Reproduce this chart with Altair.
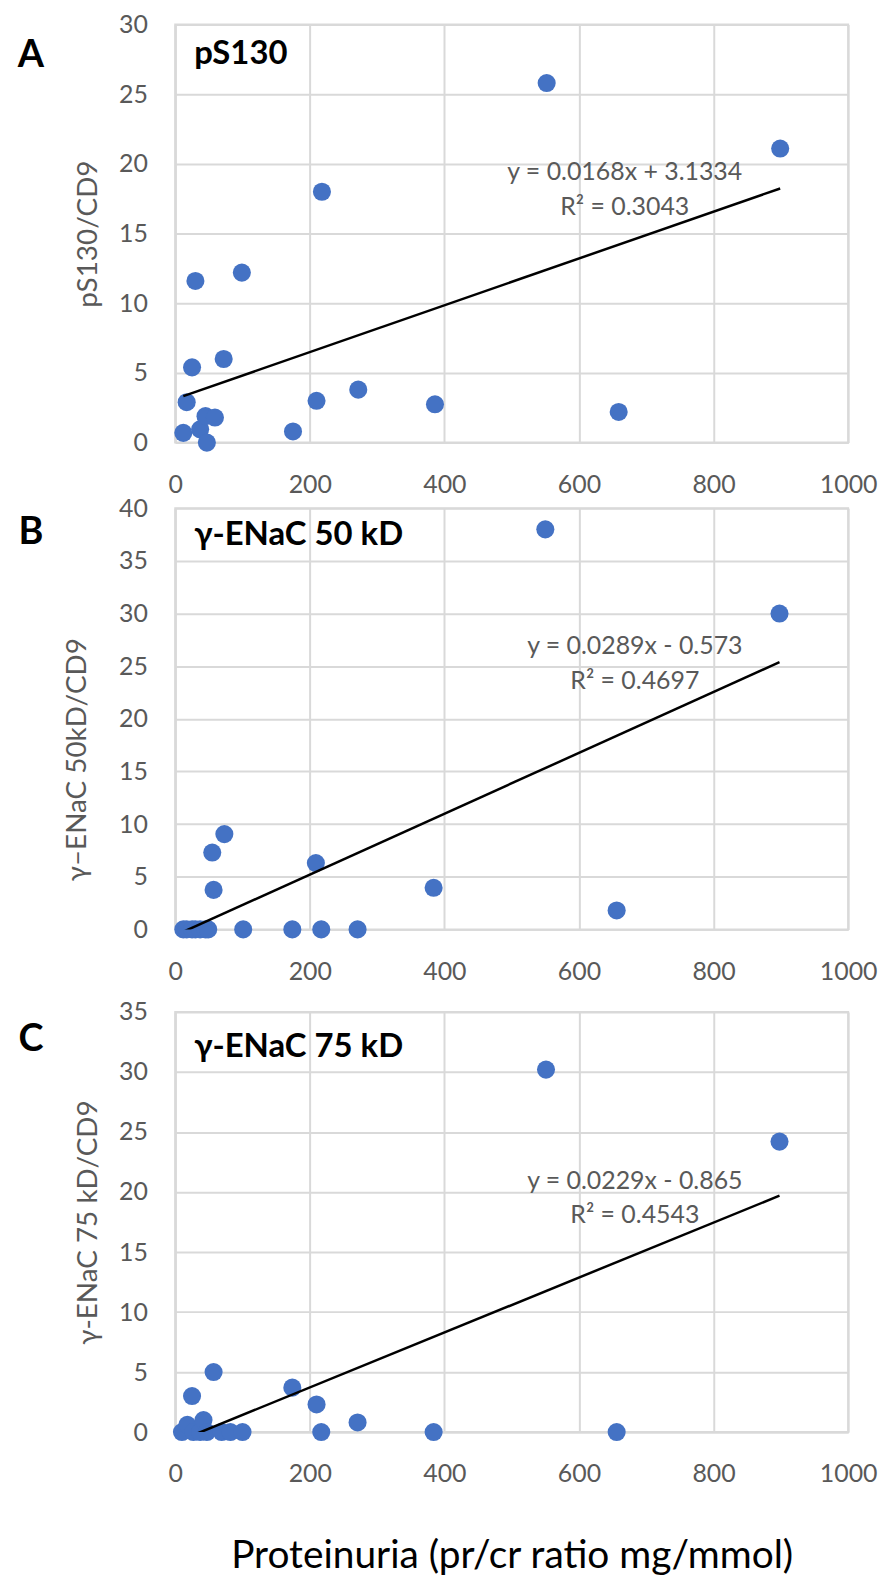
import altair as alt
import pandas as pd

# ---------------- data ----------------
# Panel A: pS130/CD9 vs proteinuria
x_A = [12, 17, 25, 30, 37, 45, 47, 59, 72, 99, 175, 210, 218, 272, 386, 552, 659, 899]
y_A = [0.7, 2.9, 5.4, 11.6, 0.95, 1.9, 0.0, 1.8, 6.0, 12.2, 0.8, 3.0, 18.0, 3.8, 2.75, 25.8, 2.2, 21.1]

# Panel B: gamma-ENaC 50 kD/CD9 vs proteinuria
x_B = [12, 17, 25, 30, 37, 45, 49, 55, 57, 73, 101, 174, 209, 217, 271, 384, 550, 656, 898]
y_B = [0, 0, 0, 0, 0, 0, 0, 7.3, 3.75, 9.05, 0, 0, 6.3, 0, 0, 3.95, 38.0, 1.8, 30.0]

# Panel C: gamma-ENaC 75 kD/CD9 vs proteinuria
x_C = [10, 18, 25, 27, 37, 42, 47, 57, 69, 82, 100, 174, 210, 217, 271, 384, 551, 656, 898]
y_C = [0, 0.6, 3.0, 0, 0, 1.0, 0, 5.0, 0, 0, 0, 3.7, 2.3, 0, 0.8, 0, 30.2, 0, 24.2]

# Printed linear trendlines
slopes = [0.0168, 0.0289, 0.0229]
intercepts = [3.1334, -0.573, -0.865]
eq_texts = ["y = 0.0168x + 3.1334", "y = 0.0289x - 0.573", "y = 0.0229x - 0.865"]
r2_texts = ["R² = 0.3043", "R² = 0.4697", "R² = 0.4543"]

y_titles = ["pS130/CD9", "γ–ENaC 50kD/CD9", "γ-ENaC 75 kD/CD9"]
panel_titles = ["pS130", "γ-ENaC 50 kD", "γ-ENaC 75 kD"]
letters = ["A", "B", "C"]
y_max = [30, 40, 35]
x_ticks = [0, 200, 400, 600, 800, 1000]
x_title = "Proteinuria (pr/cr ratio mg/mmol)"

FONT = "Lato"
BLUE = "#4472C4"
GRAY = "#595959"
W = 676


def panel(i, xs, ys, height, title_pad, eq_pos, letter_y, ptitle_y,
          title_y=None, show_x_title=False):
    df = pd.DataFrame({"x": xs, "y": ys})
    ymax = y_max[i]
    x_axis_kw = dict(values=x_ticks, labelPadding=30, grid=True, format="d")
    if show_x_title:
        x_axis_kw.update(title=x_title, titleFontSize=39, titleColor="#000000",
                         titlePadding=50, titleFont=FONT)
    else:
        x_axis_kw.update(title=None)
    y_axis_kw = dict(values=list(range(0, ymax + 1, 5)), labelPadding=28,
                     title=y_titles[i], titleFontSize=28, titlePadding=title_pad,
                     grid=True, format="d")
    if title_y is not None:
        y_axis_kw["titleY"] = title_y

    x_enc = alt.X("x:Q", scale=alt.Scale(domain=[0, 1000], nice=False),
                  axis=alt.Axis(**x_axis_kw))
    y_enc = alt.Y("y:Q", scale=alt.Scale(domain=[0, ymax], nice=False),
                  axis=alt.Axis(**y_axis_kw))

    pts = alt.Chart(df).mark_circle(size=330, color=BLUE, opacity=1).encode(
        x=x_enc, y=y_enc)

    line_df = pd.DataFrame({"x": [min(xs), max(xs)]})
    trend = (alt.Chart(line_df)
             .transform_calculate(y=f"{slopes[i]}*datum.x + ({intercepts[i]})")
             .mark_line(color="black", strokeWidth=2.5, clip=True)
             .encode(x=x_enc, y=y_enc))

    one = pd.DataFrame({"k": [0]})
    eq1 = alt.Chart(one).mark_text(font=FONT, fontSize=25, color=GRAY,
                                   align="center", baseline="middle").encode(
        x=alt.datum(eq_pos[0]), y=alt.datum(eq_pos[1]), text=alt.value(eq_texts[i]))
    eq2 = alt.Chart(one).mark_text(font=FONT, fontSize=25, color=GRAY,
                                   align="center", baseline="middle").encode(
        x=alt.datum(eq_pos[0]), y=alt.datum(eq_pos[2]), text=alt.value(r2_texts[i]))
    ptitle = alt.Chart(one).mark_text(font=FONT, fontSize=33, fontWeight="bold",
                                      color="black", align="left",
                                      baseline="middle").encode(
        x=alt.value(19), y=alt.value(ptitle_y), text=alt.value(panel_titles[i]))
    letter = alt.Chart(one).mark_text(font=FONT, fontSize=38, fontWeight="bold",
                                      color="black", align="center",
                                      baseline="middle").encode(
        x=alt.value(-145), y=alt.value(letter_y), text=alt.value(letters[i]))

    return alt.layer(pts, trend, eq1, eq2, ptitle, letter).properties(
        width=W, height=height)


pA = panel(0, x_A, y_A, 420, 16, (668, 19.4, 16.9), 32, 30)
pB = panel(1, x_B, y_B, 423, 27, (683, 26.9, 23.6), 25, 27, title_y=252)
pC = panel(2, x_C, y_C, 422, 16, (683, 20.9, 18.1), 28, 35, show_x_title=True)

chart = (alt.vconcat(alt.vconcat(pA, pB, spacing=-3), pC, spacing=14)
         .properties(padding={"left": 8, "top": 0, "right": 0, "bottom": 0})
         .configure_axis(labelFont=FONT, labelFontSize=25, labelColor=GRAY,
                         titleFont=FONT, titleColor=GRAY, titleFontWeight="normal",
                         gridColor="#d9d9d9", gridWidth=2,
                         domainColor="#d9d9d9", domainWidth=2,
                         ticks=False, tickSize=0, labelFlush=False,
                         labelOverlap=False)
         .configure_view(stroke="#d9d9d9", strokeWidth=2))

chart.save("out.html", embed_options={"renderer": "svg", "actions": False})
